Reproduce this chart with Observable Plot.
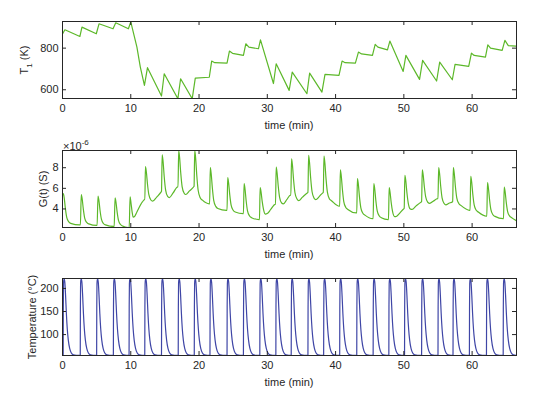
<!DOCTYPE html>
<html><head><meta charset="utf-8">
<script src="https://cdn.jsdelivr.net/npm/d3@7"></script>
<script src="https://cdn.jsdelivr.net/npm/@observablehq/plot@0.6"></script>
<style>
body{margin:0;background:#fff;font-family:"Liberation Sans",Arial,sans-serif;}
#chart{position:relative;width:550px;height:399px;overflow:hidden;}
.panel{position:absolute;left:0;}
.lbl{position:absolute;font-size:11px;color:#262626;white-space:nowrap;line-height:13px;}
.ylbl{transform:translate(-50%,-50%) rotate(-90deg);}
.xlbl{transform:translate(-50%,-50%);}
sub,sup{font-size:8px;}
</style></head><body><div id="chart"></div>
<script>
// ---- data ----
const xTicks = [0, 10, 20, 30, 40, 50, 60];
const t1Ticks = [600, 800];
const gTicks = [4, 6, 8];
const tempTicks = [100, 150, 200];

// T1 (K) vs time (min)
const t1Points = [
[0,868],[0.35,888],[2.55,856],[2.85,901],[4.95,869],[5.35,917],[7.4,893],[7.8,922],[9.65,893],[10.0,926],
[10.9,805],[11.4,709],[12.0,621],[12.45,706],[14.5,570],[14.9,677],[16.9,557],[17.3,653],[19.0,557],[19.45,656],
[21.5,660],[21.85,738],[22.3,730],[24.1,728],[24.45,786],[24.9,775],[26.5,765],[26.85,821],[27.3,805],[28.7,797],
[29.0,840],[30.9,630],[31.3,725],[33.2,597],[33.65,685],[35.8,581],[36.2,680],[38.0,589],[38.45,674],[40.5,669],
[40.95,738],[41.4,730],[42.9,728],[43.35,781],[43.8,772],[45.4,765],[45.8,818],[46.2,805],[47.6,792],[47.95,834],
[49.9,688],[50.3,765],[52.3,650],[52.75,741],[54.8,642],[55.25,733],[57.1,648],[57.5,722],[59.5,712],[59.9,776],
[60.3,765],[61.95,757],[62.3,816],[62.7,800],[64.4,789],[64.8,837],[65.3,812],[66.5,810]
];

// G(t) in units of 1e-6 S
const gPoints = [
[0,5.35],[0.12,5.5],[0.25,5.07],[0.42,4.05],[0.62,3.18],[0.92,2.75],[1.2,2.6],[2.5,2.45],
[2.62,2.45],[2.75,5.4],[2.88,4.97],[3.05,3.98],[3.25,3.12],[3.55,2.69],[3.85,2.55],[5.0,2.4],
[5.07,2.4],[5.2,5.25],[5.33,4.83],[5.5,3.85],[5.7,3.01],[6.0,2.59],[6.3,2.45],[7.5,2.3],
[7.57,2.3],[7.7,5.08],[7.83,4.67],[8.0,3.72],[8.2,2.9],[8.5,2.49],[8.8,2.35],[9.6,2.2],
[9.77,2.2],[9.9,5.18],[10.03,4.6],[10.2,3.7],[10.35,3.2],[10.6,3.3],[10.9,3.7],[11.7,4.68],[12.02,4.9],
[12.06,4.9],[12.15,8.1],[12.28,7.59],[12.45,6.4],[12.65,5.38],[12.95,4.87],[13.2,4.75],[13.8,5.15],[14.45,5.65],
[14.5,5.7],[14.6,9.26],[14.73,8.62],[14.9,7.13],[15.1,5.85],[15.4,5.21],[15.65,5.1],[16.2,5.55],[16.88,6.15],
[16.92,6.15],[17.02,9.65],[17.15,9.0],[17.32,7.48],[17.52,6.17],[17.82,5.52],[18.05,5.4],[18.6,5.75],[19.22,6.15],
[19.27,6.2],[19.37,9.65],[19.5,8.93],[19.67,7.25],[19.87,5.81],[20.17,5.09],[20.5,4.85],[21.5,4.5],
[21.55,4.5],[21.65,8.0],[21.78,7.41],[21.95,6.03],[22.15,4.84],[22.45,4.25],[22.75,4.05],[24.0,3.87],
[24.1,3.87],[24.2,7.03],[24.33,6.53],[24.5,5.37],[24.7,4.37],[25.0,3.87],[25.3,3.7],[26.45,3.55],
[26.5,3.55],[26.6,6.45],[26.73,5.96],[26.9,4.8],[27.1,3.81],[27.4,3.32],[27.7,3.15],[28.8,2.97],
[28.85,2.97],[28.95,6.06],[29.08,5.66],[29.25,4.73],[29.45,3.93],[29.7,3.5],[30.0,3.55],[30.5,3.95],[31.15,4.45],
[31.2,4.45],[31.3,8.06],[31.43,7.51],[31.6,6.23],[31.8,5.13],[32.1,4.58],[32.35,4.5],[32.85,4.9],[33.4,5.35],
[33.45,5.35],[33.55,8.87],[33.68,8.25],[33.85,6.81],[34.05,5.57],[34.35,4.96],[34.6,4.8],[35.15,5.15],[35.9,5.58],
[35.95,5.6],[36.05,9.19],[36.18,8.53],[36.35,7.0],[36.55,5.69],[36.85,5.04],[37.1,4.9],[37.6,5.2],[38.15,5.58],
[38.2,5.6],[38.3,9.13],[38.43,8.47],[38.6,6.94],[38.8,5.63],[39.1,4.97],[39.4,4.8],[40.55,4.26],
[40.6,4.26],[40.7,7.8],[40.83,7.22],[41.0,5.88],[41.2,4.72],[41.5,4.14],[41.8,3.95],[43.05,3.61],
[43.1,3.61],[43.2,6.94],[43.33,6.41],[43.5,5.17],[43.7,4.11],[44.0,3.58],[44.3,3.4],[45.45,3.06],
[45.5,3.06],[45.6,6.45],[45.73,5.96],[45.9,4.8],[46.1,3.81],[46.4,3.32],[46.7,3.15],[47.7,2.97],
[47.75,2.97],[47.85,6.06],[47.98,5.62],[48.15,4.6],[48.35,3.73],[48.65,3.25],[48.95,3.3],[49.4,3.6],[50.0,4.03],
[50.05,4.05],[50.15,7.26],[50.28,6.75],[50.45,5.57],[50.65,4.55],[50.95,4.0],[51.2,3.95],[51.8,4.3],[52.55,4.68],
[52.6,4.7],[52.7,7.8],[52.83,7.3],[53.0,6.15],[53.2,5.16],[53.5,4.65],[53.8,4.55],[54.3,4.75],[54.95,5.0],
[55.0,5.0],[55.1,8.0],[55.23,7.45],[55.4,6.18],[55.6,5.08],[55.9,4.53],[56.15,4.4],[56.6,4.55],[57.1,4.68],
[57.15,4.7],[57.25,8.0],[57.38,7.45],[57.55,6.18],[57.75,5.08],[58.05,4.53],[58.35,4.35],[59.65,3.87],
[59.7,3.87],[59.8,7.16],[59.93,6.64],[60.1,5.43],[60.3,4.39],[60.6,3.87],[60.9,3.7],[62.1,3.29],
[62.15,3.29],[62.25,6.55],[62.38,6.06],[62.55,4.92],[62.75,3.93],[63.05,3.44],[63.35,3.28],[64.55,3.06],
[64.6,3.06],[64.7,6.13],[64.83,5.68],[65.0,4.64],[65.2,3.75],[65.5,3.3],[65.8,3.15],[66.5,2.84]
];

// heating pulses: start times (min) and the common pulse shape [dt (min), °C]
const pulseStarts = [0.1,2.6,5.0,7.45,9.75,12.05,14.5,16.95,19.3,21.6,24.1,26.5,28.9,31.25,
  33.5,35.95,38.25,40.6,43.1,45.5,47.8,50.1,52.6,55.0,57.2,59.6,62.1,64.55];
const pulseShape = [[0,55],[0.02,160],[0.05,210],[0.1,219],[0.17,220],[0.25,212],[0.35,185],
  [0.47,145],[0.6,112],[0.75,88],[0.95,70],[1.2,60],[1.5,56],[1.9,55]];

// ---- layout ----
const FONT = '"Liberation Sans", Arial, sans-serif';
const AX = "#262626";
const W = 550, H = 130, ML = 62, MR = 34, MT = 21, FH = 77;
const FW = W - ML - MR;
const chart = document.getElementById("chart");

const tempRows = pulseStarts.flatMap(s => pulseShape.map(([dt, v]) => ({t: s + dt, v})));

function panel(top, rows, yDomain, yTicks, color, curve) {
  const p = Plot.plot({
    width: W, height: H,
    marginLeft: ML, marginRight: MR, marginTop: MT, marginBottom: H - MT - FH,
    x: {domain: [0, 66.5]},
    y: {domain: yDomain},
    style: {fontFamily: FONT, fontSize: "11px", color: AX, background: "transparent", overflow: "visible"},
    marks: [
      Plot.line(rows, {x: "t", y: "v", stroke: color, strokeWidth: 1.2, curve, clip: true}),
      Plot.frame({stroke: AX, strokeWidth: 1}),
      Plot.tickX(xTicks, {x: d => d, insetTop: FH - 4, stroke: AX}),
      Plot.tickX(xTicks, {x: d => d, insetBottom: FH - 4, stroke: AX}),
      Plot.tickY(yTicks, {y: d => d, insetRight: FW - 4, stroke: AX}),
      Plot.tickY(yTicks, {y: d => d, insetLeft: FW - 4, stroke: AX}),
      Plot.axisX({ticks: xTicks, tickSize: 0, tickPadding: 6, label: null}),
      Plot.axisY({ticks: yTicks, tickSize: 0, tickPadding: 4, label: null, tickFormat: d => d})
    ]
  });
  p.classList.add("panel");
  p.style.top = top + "px";
  chart.appendChild(p);
}

panel(0, t1Points.map(([t, v]) => ({t, v})), [558, 928], t1Ticks, "#5cb829", "linear");
panel(129, gPoints.map(([t, v]) => ({t, v})), [2.2, 9.67], gTicks, "#5cb829", "monotone-x");
panel(257, tempRows, [54.7, 221.5], tempTicks, "#3f46a6", "monotone-x");

function label(html, x, y, cls) {
  const d = document.createElement("div");
  d.className = "lbl " + cls;
  d.innerHTML = html;
  d.style.left = x + "px";
  d.style.top = y + "px";
  chart.appendChild(d);
}
label("T<sub>1</sub> (K)", 27, 59.5, "ylbl");
label("G(t) (S)", 43, 188.5, "ylbl");
label("Temperature (°C)", 32, 316.5, "ylbl");
label("time (min)", 289, 125, "xlbl");
label("time (min)", 289, 254, "xlbl");
label("time (min)", 289, 382, "xlbl");
label("×10<sup>-6</sup>", 63, 136, "");
</script></body></html>
